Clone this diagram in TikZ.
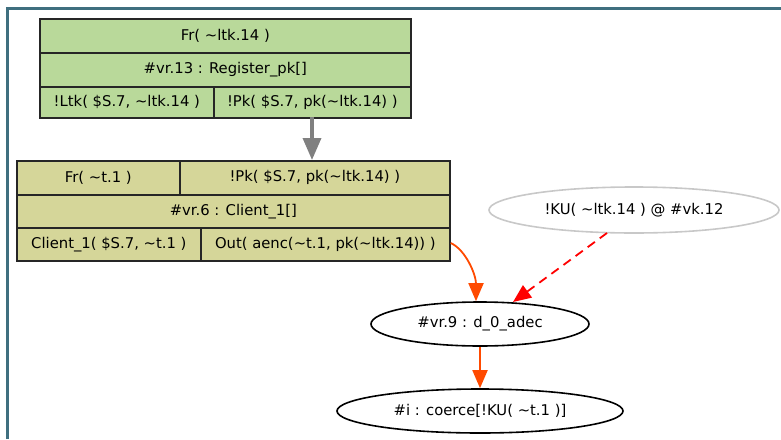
\documentclass[tikz,border=0pt]{standalone}
\usepackage{fontspec}
\setmainfont{DejaVu Sans}
\usetikzlibrary{arrows.meta,shapes.geometric}
\definecolor{frameteal}{HTML}{3F6F7F}
\definecolor{regfill}{HTML}{B9D99A}
\definecolor{clifill}{HTML}{D5D699}
\definecolor{orng}{HTML}{FF4A00}
\definecolor{kugray}{HTML}{C8C8C8}
\tikzset{
  cell/.style={draw=black!85, line width=1.7pt, rectangle, inner sep=0pt, font=\fontsize{14.8}{18}\selectfont},
  regcell/.style={cell, fill=regfill},
  clicell/.style={cell, fill=clifill},
  ell/.style={ellipse, draw, line width=1.6pt, inner sep=0pt, font=\fontsize{14.8}{18}\selectfont},
  oedge/.style={draw=orng, line width=1.8pt, -{Triangle[length=18pt,width=15pt]}},
}
\begin{document}
\begin{tikzpicture}[x=1pt,y=1pt]
\path[use as bounding box] (0,0) rectangle (781,-439);
\draw[frameteal, line width=3pt] (7.5,-439) -- (7.5,-8) -- (781,-8);
% top record
\node[regcell, minimum width=371pt, minimum height=34pt, anchor=north west] (r13a) at (39,-18) {Fr( \char`~ltk.14 )};
\node[regcell, minimum width=371pt, minimum height=34pt, anchor=north west] (r13b) at (39,-52) {\#vr.13 : Register\_pk[]};
\node[regcell, minimum width=174pt, minimum height=31pt, anchor=north west] (r13c) at (39,-86) {!Ltk( \$S.7, \char`~ltk.14 )};
\node[regcell, minimum width=197pt, minimum height=31pt, anchor=north west] (r13d) at (213,-86) {!Pk( \$S.7, pk(\char`~ltk.14) )};
% second record
\node[clicell, minimum width=163pt, minimum height=34pt, anchor=north west] (c6a) at (16,-160) {Fr( \char`~t.1 )};
\node[clicell, minimum width=270pt, minimum height=34pt, anchor=north west] (c6b) at (179,-160) {!Pk( \$S.7, pk(\char`~ltk.14) )};
\node[clicell, minimum width=433pt, minimum height=33pt, anchor=north west] (c6c) at (16,-194) {\#vr.6 : Client\_1[]};
\node[clicell, minimum width=184pt, minimum height=33pt, anchor=north west] (c6d) at (16,-227) {Client\_1( \$S.7, \char`~t.1 )};
\node[clicell, minimum width=249pt, minimum height=33pt, anchor=north west] (c6e) at (200,-227) {Out( aenc(\char`~t.1, pk(\char`~ltk.14)) )};
% ellipses
\node[ell, draw=kugray, minimum width=290pt, minimum height=46pt] (ku) at (634,-210) {!KU( \char`~ltk.14 ) @ \#vk.12};
\node[ell, minimum width=218pt, minimum height=44pt] (vr9) at (480,-324) {\#vr.9 : d\_0\_adec};
\node[ell, minimum width=286pt, minimum height=44pt] (co) at (480,-411) {\#i : coerce[!KU( \char`~t.1 )]};
% edges
\draw[gray, line width=3.5pt, -{Triangle[length=22pt,width=18pt]}] (312,-117) -- (312,-160);
\draw[oedge] (c6e.east |- 0,-243) .. controls (466,-250) and (476,-275) .. (vr9.north -| 476,0);
\draw[draw=red, line width=1.8pt, dash pattern=on 9pt off 6pt, -{Triangle[length=18pt,width=15pt]}] (607,-233) -- (513,-302);
\draw[oedge] (vr9) -- (co);
\end{tikzpicture}
\end{document}
